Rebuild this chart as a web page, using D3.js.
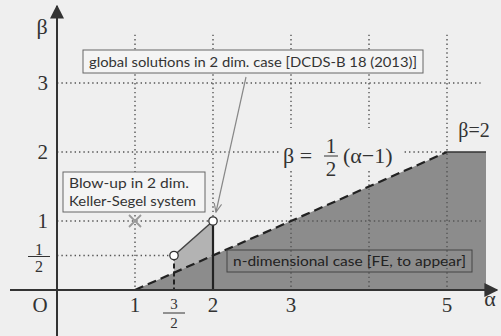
<!DOCTYPE html>
<html>
<head>
<meta charset="utf-8">
<script src="https://cdn.jsdelivr.net/npm/d3@7"></script>
<style>
  body { margin: 0; background: #efefef; }
  svg { display: block; }
</style>
</head>
<body>
<div id="chart"></div>
<script>
// chart values
const gridX = [1, 2, 3, 4, 5];
const gridY = [1, 2, 3];
const xTicks = [1, 2, 3, 5];
const yTicks = [1, 2, 3];
const halfTickX = 1.5;
const halfTickY = 0.5;
const boundary = [[1, 0], [5, 2]];
const nDimRegion = [[1, 0], [5, 2], [5.5, 2], [5.5, 0]];
const twoDimRegion = [[1.5, 0.5], [2, 1], [2, 0.5], [1.5, 0.25]];
const openPoints = [[1.5, 0.5], [2, 1]];
const blowUp = [1, 1];

const W = 501, H = 336;
const bg = "#efefef";

const x = d3.scaleLinear().domain([0, 5.5]).range([57, 486]);
const y = d3.scaleLinear().domain([0, 3]).range([290, 83]);

const svg = d3.select("#chart").append("svg")
  .attr("width", W).attr("height", H);

const defs = svg.append("defs");
defs.append("marker").attr("id", "arr")
  .attr("viewBox", "0 0 10 10").attr("refX", 9).attr("refY", 5)
  .attr("markerWidth", 7).attr("markerHeight", 7).attr("orient", "auto")
  .append("path").attr("d", "M0,0 L10,5 L0,10 z").attr("fill", "#333");
defs.append("marker").attr("id", "arrThin")
  .attr("viewBox", "0 0 10 10").attr("refX", 9).attr("refY", 5)
  .attr("markerWidth", 8).attr("markerHeight", 8).attr("orient", "auto")
  .append("path").attr("d", "M0,1 L9,5 L0,9").attr("fill", "none")
  .attr("stroke", "#888").attr("stroke-width", 1.2);

const line = d3.line().x(d => x(d[0])).y(d => y(d[1]));

// regions
svg.append("path").attr("d", line(twoDimRegion) + "Z").attr("fill", "#b3b3b3");
svg.append("path").attr("d", line(nDimRegion) + "Z").attr("fill", "#8c8c8c");

// dotted grid
const dotted = { stroke: "#555", "stroke-width": 1.4, "stroke-dasharray": "1.4,3" };
const applyStyle = (sel, st) => { Object.entries(st).forEach(([k, v]) => sel.attr(k, v)); return sel; };

applyStyle(svg.append("g").selectAll("line").data(gridX).enter().append("line")
  .attr("x1", d => x(d)).attr("x2", d => x(d))
  .attr("y1", y(3.7)).attr("y2", y(0)), dotted);

applyStyle(svg.append("g").selectAll("line").data(gridY).enter().append("line")
  .attr("x1", x(0)).attr("x2", d => d === 2 ? x(5) : x(5.43))
  .attr("y1", d => y(d)).attr("y2", d => y(d)), dotted);

applyStyle(svg.append("line")
  .attr("x1", x(0)).attr("x2", x(halfTickX))
  .attr("y1", y(halfTickY)).attr("y2", y(halfTickY)), dotted);

// formula background patch, hides the grid behind the formula
svg.append("rect").attr("x", 281).attr("y", 128).attr("width", 121).attr("height", 42)
  .attr("fill", bg);

// boundary beta = (alpha-1)/2
svg.append("path").attr("d", line(boundary)).attr("stroke", "#222")
  .attr("stroke-width", 2.2).attr("stroke-dasharray", "9,5").attr("fill", "none");

// top edge of n-dim region
svg.append("line").attr("x1", x(5)).attr("x2", x(5.5))
  .attr("y1", y(2)).attr("y2", y(2)).attr("stroke", "#333").attr("stroke-width", 1.5);

// 2-dim boundary
svg.append("path").attr("d", line(openPoints)).attr("stroke", "#444")
  .attr("stroke-width", 1.5).attr("fill", "none");
svg.append("line").attr("x1", x(1.5)).attr("x2", x(1.5))
  .attr("y1", y(0.5)).attr("y2", y(0))
  .attr("stroke", "#222").attr("stroke-width", 2).attr("stroke-dasharray", "5,3");
svg.append("line").attr("x1", x(2)).attr("x2", x(2))
  .attr("y1", y(1)).attr("y2", y(0))
  .attr("stroke", "#222").attr("stroke-width", 2.2);

// axes
svg.append("line").attr("x1", 10).attr("x2", 497).attr("y1", y(0)).attr("y2", y(0))
  .attr("stroke", "#333").attr("stroke-width", 2).attr("marker-end", "url(#arr)");
svg.append("line").attr("x1", x(0)).attr("x2", x(0)).attr("y1", 336).attr("y2", 6)
  .attr("stroke", "#333").attr("stroke-width", 2).attr("marker-end", "url(#arr)");

// open points
svg.selectAll("circle.open").data(openPoints).enter().append("circle")
  .attr("class", "open")
  .attr("cx", d => x(d[0])).attr("cy", d => y(d[1])).attr("r", 4.2)
  .attr("fill", "#fff").attr("stroke", "#333").attr("stroke-width", 1.3);

// blow-up cross
const bx = x(blowUp[0]), by = y(blowUp[1]);
svg.append("path").attr("d", `M${bx - 6},${by - 6}L${bx + 6},${by + 6}M${bx - 6},${by + 6}L${bx + 6},${by - 6}`)
  .attr("stroke", "#999").attr("stroke-width", 1.8);

// tick labels
const serif = "'Liberation Serif', 'DejaVu Serif', serif";
const tl = svg.append("g").attr("font-family", serif).attr("fill", "#333");

tl.selectAll("text.xt").data(xTicks).enter().append("text")
  .attr("x", d => x(d)).attr("y", y(0) + 22).attr("text-anchor", "middle")
  .attr("font-size", 21).text(d => d);
tl.selectAll("text.yt").data(yTicks).enter().append("text")
  .attr("x", x(0) - 9).attr("y", d => y(d) + 7).attr("text-anchor", "end")
  .attr("font-size", 21).text(d => d);
tl.append("text").attr("x", 40).attr("y", y(0) + 22).attr("text-anchor", "middle")
  .attr("font-size", 21).text("O");

// fractions
function fraction(g, cx, cy, num, den, size, barW, numOff, denOff) {
  g.append("text").attr("x", cx).attr("y", cy - numOff).attr("text-anchor", "middle")
    .attr("font-size", size).text(num);
  g.append("line").attr("x1", cx - barW / 2).attr("x2", cx + barW / 2)
    .attr("y1", cy).attr("y2", cy).attr("stroke", "#333").attr("stroke-width", 1);
  g.append("text").attr("x", cx).attr("y", cy + denOff).attr("text-anchor", "middle")
    .attr("font-size", size).text(den);
}
fraction(tl, x(halfTickX), y(0) + 23, "3", "2", 15, 22, 4, 15);
fraction(tl, 39, y(halfTickY) + 1, "1", "2", 16, 22, 2, 15);

// axis names
tl.append("text").attr("x", 42).attr("y", 34).attr("text-anchor", "middle")
  .attr("font-size", 22).text("β");
tl.append("text").attr("x", 490).attr("y", 306).attr("text-anchor", "middle")
  .attr("font-size", 22).text("α");

// formula
const fg = tl.append("g").attr("font-size", 22);
fg.append("text").attr("x", 283).attr("y", 163).text("β =");
fraction(fg, 331, 156, "1", "2", 21, 14, 3, 20);
fg.append("text").attr("x", 343).attr("y", 163).text("(α−1)");
tl.append("text").attr("x", 474).attr("y", 137).attr("text-anchor", "middle")
  .attr("font-size", 20).text("β=2");

// annotation boxes
const sans = "Lato, 'Noto Sans', sans-serif";
function box(x0, y0, w, h, fill) {
  svg.append("rect").attr("x", x0).attr("y", y0).attr("width", w).attr("height", h)
    .attr("fill", fill).attr("stroke", "#666").attr("stroke-width", 1);
}
box(83, 50, 340, 23, "#f4f4f4");
svg.append("text").attr("x", 89).attr("y", 67).attr("font-family", sans)
  .attr("font-size", 14).attr("fill", "#333")
  .attr("textLength", 328).attr("lengthAdjust", "spacingAndGlyphs")
  .text("global solutions in 2 dim. case [DCDS-B 18 (2013)]");

box(63, 172, 142, 40, "#f4f4f4");
const bt = svg.append("text").attr("font-family", sans).attr("font-size", 14).attr("fill", "#333");
bt.append("tspan").attr("x", 69).attr("y", 188).attr("textLength", 120)
  .attr("lengthAdjust", "spacingAndGlyphs").text("Blow-up in 2 dim.");
bt.append("tspan").attr("x", 69).attr("y", 206).attr("textLength", 127)
  .attr("lengthAdjust", "spacingAndGlyphs").text("Keller-Segel system");

svg.append("rect").attr("x", 227).attr("y", 250).attr("width", 245).attr("height", 22)
  .attr("fill", "none").attr("stroke", "#444").attr("stroke-width", 1);
svg.append("text").attr("x", 233).attr("y", 266).attr("font-family", sans)
  .attr("font-size", 14).attr("fill", "#222")
  .attr("textLength", 233).attr("lengthAdjust", "spacingAndGlyphs")
  .text("n-dimensional case [FE, to appear]");

// pointer to (2,1)
svg.append("line").attr("x1", 246).attr("y1", 77).attr("x2", x(2) + 3).attr("y2", y(1) - 9)
  .attr("stroke", "#888").attr("stroke-width", 1.2).attr("marker-end", "url(#arrThin)");
</script>
</body>
</html>
